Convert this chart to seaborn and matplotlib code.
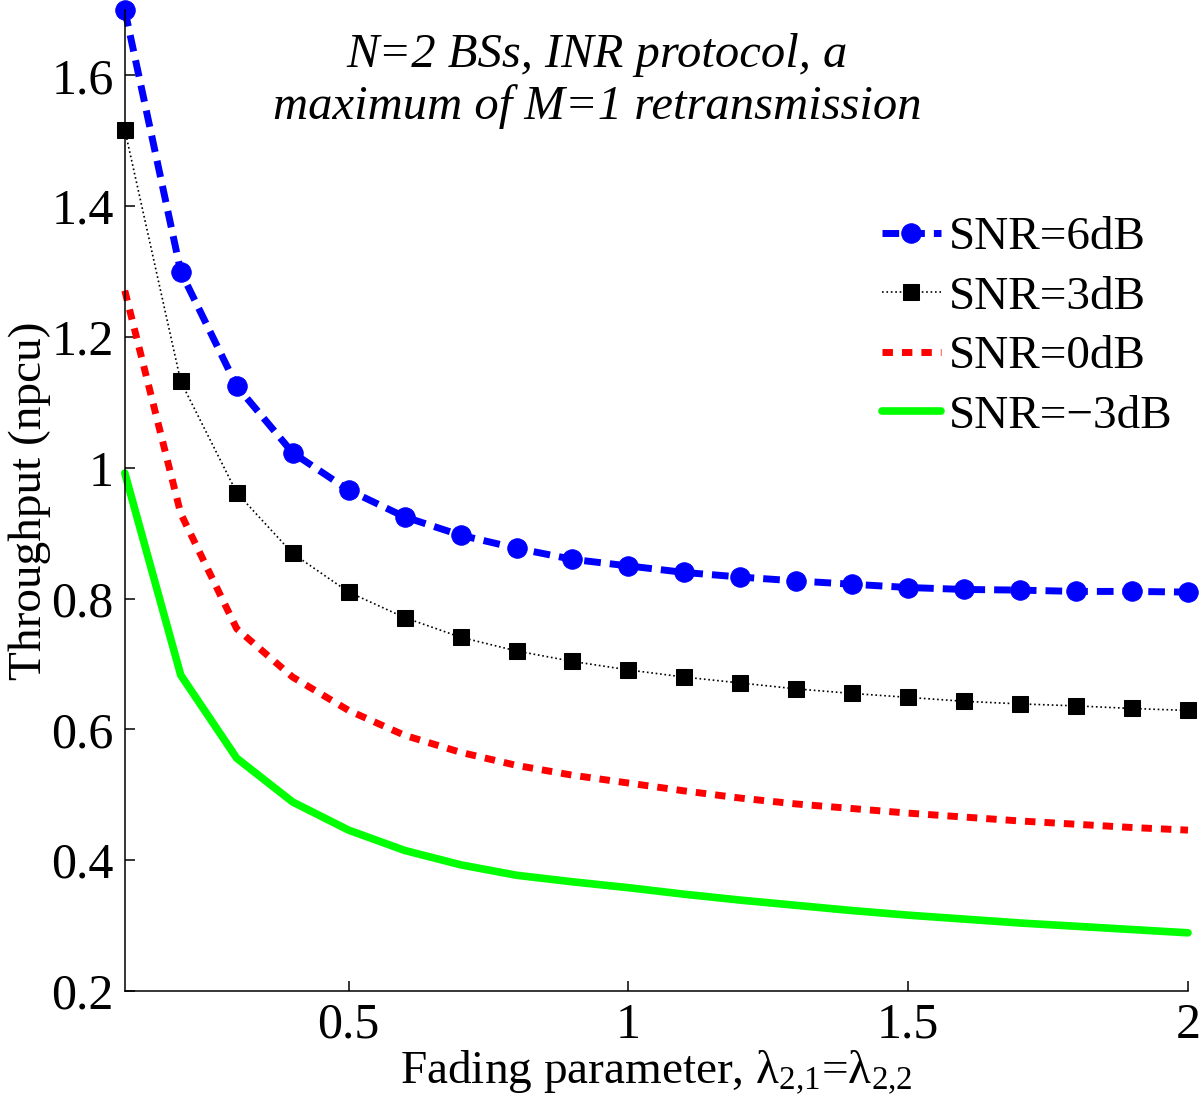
import numpy as np
import pandas as pd
import matplotlib
matplotlib.use('Agg')
import matplotlib.pyplot as plt
import seaborn as sns

# fading parameter lambda_{2,1} = lambda_{2,2}
fading = [0.1, 0.2, 0.3, 0.4, 0.5, 0.6, 0.7, 0.8, 0.9, 1.0,
          1.1, 1.2, 1.3, 1.4, 1.5, 1.6, 1.7, 1.8, 1.9, 2.0]

snr_6db = [1.700, 1.300, 1.125, 1.023, 0.966, 0.925, 0.897, 0.877, 0.860, 0.850,
           0.840, 0.833, 0.827, 0.822, 0.817, 0.814, 0.813, 0.811, 0.811, 0.810]
snr_3db = [1.517, 1.132, 0.962, 0.869, 0.810, 0.771, 0.741, 0.720, 0.704, 0.691,
           0.680, 0.671, 0.662, 0.655, 0.649, 0.643, 0.639, 0.636, 0.632, 0.629]
snr_0db = [1.271, 0.930, 0.754, 0.680, 0.629, 0.591, 0.565, 0.545, 0.530, 0.518,
           0.506, 0.495, 0.486, 0.479, 0.472, 0.466, 0.460, 0.455, 0.450, 0.446]
snr_m3db = [0.992, 0.683, 0.556, 0.489, 0.446, 0.415, 0.393, 0.377, 0.367, 0.358,
            0.348, 0.339, 0.331, 0.323, 0.316, 0.310, 0.304, 0.299, 0.294, 0.289]

labels = ['SNR=6dB', 'SNR=3dB', 'SNR=0dB', 'SNR=\u22123dB']

df = pd.DataFrame({'fading': fading, labels[0]: snr_6db, labels[1]: snr_3db,
                   labels[2]: snr_0db, labels[3]: snr_m3db})

sns.set_style('ticks')
plt.rcParams['font.family'] = ['Liberation Serif', 'DejaVu Serif']
plt.rcParams['mathtext.fontset'] = 'custom'
plt.rcParams['mathtext.rm'] = 'Liberation Serif'
plt.rcParams['mathtext.it'] = 'Liberation Serif:italic'
plt.rcParams['mathtext.default'] = 'regular'
for k in ['text.color', 'axes.labelcolor', 'xtick.color', 'ytick.color', 'axes.edgecolor']:
    plt.rcParams[k] = 'black'

fig = plt.figure(figsize=(12, 11.14), dpi=100)
ax = fig.add_axes([0.104, 0.1104, 0.886, 0.8806])

# blue dashed with circles
sns.lineplot(data=df, x='fading', y=labels[0], ax=ax, color='#0000ff', linestyle='--',
             linewidth=5, marker='o', markersize=14, markeredgecolor='#0000ff',
             label=labels[0], clip_on=False)
ax.lines[-1].set_dashes((2.4, 1.3))
# black dotted with squares
sns.lineplot(data=df, x='fading', y=labels[1], ax=ax, color='black', linestyle=':',
             linewidth=1.2, marker='s', markersize=12, markeredgecolor='black',
             label=labels[1], clip_on=False)
# red dashed
sns.lineplot(data=df, x='fading', y=labels[2], ax=ax, color='#ff0000', linestyle='--',
             linewidth=5, label=labels[2], clip_on=False)
ax.lines[-1].set_dashes((1.5, 1.3))
# green solid
sns.lineplot(data=df, x='fading', y=labels[3], ax=ax, color='#00ff00', linestyle='-',
             linewidth=5.5, label=labels[3], clip_on=False)

ax.set_xlim(0.1, 2)
ax.set_ylim(0.2, 1.7)
ax.set_xticks([0.5, 1, 1.5, 2])
ax.set_xticklabels(['0.5', '1', '1.5', '2'])
ax.set_yticks([0.2, 0.4, 0.6, 0.8, 1.0, 1.2, 1.4, 1.6])
ax.set_yticklabels(['0.2', '0.4', '0.6', '0.8', '1', '1.2', '1.4', '1.6'])
ax.tick_params(direction='in', length=7, width=1.1, labelsize=36, pad=8)
for s in ['top', 'right']:
    ax.spines[s].set_visible(False)
for s in ['left', 'bottom']:
    ax.spines[s].set_linewidth(1.1)

ax.set_xlabel('Fading parameter, \u03bb$_{2{,}1}$=\u03bb$_{2{,}2}$', fontsize=34, labelpad=0)
ax.set_ylabel('Throughput (npcu)', fontsize=34, labelpad=0)

ax.text(0.444, 0.928, 'N=2 BSs, INR protocol, a\nmaximum of M=1 retransmission',
        transform=ax.transAxes, ha='center', va='center', fontsize=35,
        style='italic', linespacing=1.2)

leg = ax.legend(loc='upper left', bbox_to_anchor=(0.712, 0.79), frameon=False,
                fontsize=34, handlelength=1.25, handletextpad=0.17,
                labelspacing=0.35, borderaxespad=0, borderpad=0)

fig.savefig('out.png', dpi=100)
